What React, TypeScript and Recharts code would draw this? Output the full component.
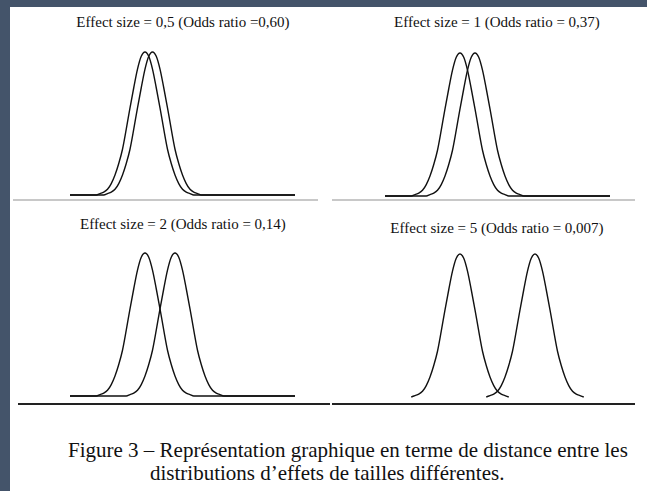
import React from "react";
import { LineChart, Line, XAxis, YAxis } from "recharts";

// one panel per effect size, the left curve always sits at x = 5
const EFFECT_SIZES = [0.5, 1, 2, 5];
const TITLES = [
  "Effect size = 0,5 (Odds ratio =0,60)",
  "Effect size = 1 (Odds ratio = 0,37)",
  "Effect size = 2 (Odds ratio = 0,14)",
  "Effect size = 5 (Odds ratio = 0,007)",
];
const HAS_BASELINE = [true, true, true, false];
const LEFT_CENTER = 5;
const X_RANGE = [0, 15];

// bell shape: offset (in sd) and height (% of peak)
const BELL_OFFSETS = [
  -3.25, -3, -2.75, -2.5, -2.25, -2, -1.75, -1.5, -1.25, -1, -0.75, -0.5, -0.25,
  0, 0.25, 0.5, 0.75, 1, 1.25, 1.5, 1.75, 2, 2.25, 2.5, 2.75, 3, 3.25,
];
const BELL_HEIGHTS = [
  0, 1, 2, 4, 8, 14, 22, 32, 46, 61, 75, 88, 97,
  100, 97, 88, 75, 61, 46, 32, 22, 14, 8, 4, 2, 1, 0,
];

const CAPTION_1 = "Figure 3 – Représentation graphique en terme de distance entre les";
const CAPTION_2 = "distributions d’effets de tailles différentes.";

const FRAME = "#44546a";
const INK = "#111111";

// where each panel's plot area lands on the page
const PANELS = [
  { left: 65, top: 47, titleX: 183, titleTop: 13 },
  { left: 380, top: 48, titleX: 497, titleTop: 13 },
  { left: 65, top: 248, titleX: 183, titleTop: 215 },
  { left: 380, top: 249, titleX: 497, titleTop: 219 },
];

const makeCurve = (center: number, flat: boolean) => {
  const pts = BELL_OFFSETS.map((o, i) => ({ x: center + o, y: BELL_HEIGHTS[i] }));
  if (flat) {
    return [{ x: X_RANGE[0], y: 0 }, ...pts, { x: X_RANGE[1], y: 0 }];
  }
  return pts;
};

const Panel = (props: { index: number }) => {
  const i = props.index;
  const p = PANELS[i];
  const first = makeCurve(LEFT_CENTER, HAS_BASELINE[i]);
  const second = makeCurve(LEFT_CENTER + EFFECT_SIZES[i], HAS_BASELINE[i]);
  return (
    <>
      <div
        style={{
          position: "absolute",
          left: p.titleX - 160,
          top: p.titleTop,
          width: 320,
          textAlign: "center",
          fontFamily: "'Liberation Serif', 'Times New Roman', serif",
          fontSize: 15,
          lineHeight: "18px",
          color: "#111",
        }}
      >
        {TITLES[i]}
      </div>
      <div style={{ position: "absolute", left: p.left, top: p.top }}>
        <LineChart width={235} height={153} margin={{ top: 5, right: 5, bottom: 5, left: 5 }}>
          <XAxis type="number" dataKey="x" domain={X_RANGE} hide />
          <YAxis type="number" domain={[0, 100]} hide />
          <Line
            data={first}
            dataKey="y"
            type="monotone"
            dot={false}
            stroke={INK}
            strokeWidth={1.4}
            isAnimationActive={false}
          />
          <Line
            data={second}
            dataKey="y"
            type="monotone"
            dot={false}
            stroke={INK}
            strokeWidth={1.4}
            isAnimationActive={false}
          />
        </LineChart>
      </div>
    </>
  );
};

const rule = (left: number, top: number, width: number, color: string) => (
  <div style={{ position: "absolute", left, top, width, height: 2, background: color }} />
);

export default function App() {
  return (
    <div
      style={{
        position: "absolute",
        left: 0,
        top: 0,
        width: 647,
        height: 491,
        background: "#fff",
        overflow: "hidden",
      }}
    >
      <div style={{ position: "absolute", left: 0, top: 0, width: 647, height: 7, background: FRAME }} />
      <div style={{ position: "absolute", left: 0, top: 0, width: 10, height: 491, background: FRAME }} />

      {EFFECT_SIZES.map((_, i) => (
        <Panel key={i} index={i} />
      ))}

      {rule(13, 199, 305, "#c8c8c8")}
      {rule(332, 199, 303, "#c8c8c8")}
      {rule(18, 403, 312, "#222")}
      {rule(332, 403, 303, "#222")}

      <div
        style={{
          position: "absolute",
          left: 68,
          top: 439,
          whiteSpace: "nowrap",
          fontFamily: "'Liberation Serif', 'Times New Roman', serif",
          fontSize: 21,
          lineHeight: "23px",
          color: "#111",
        }}
      >
        <div>{CAPTION_1}</div>
        <div style={{ paddingLeft: 82 }}>{CAPTION_2}</div>
      </div>
    </div>
  );
}
